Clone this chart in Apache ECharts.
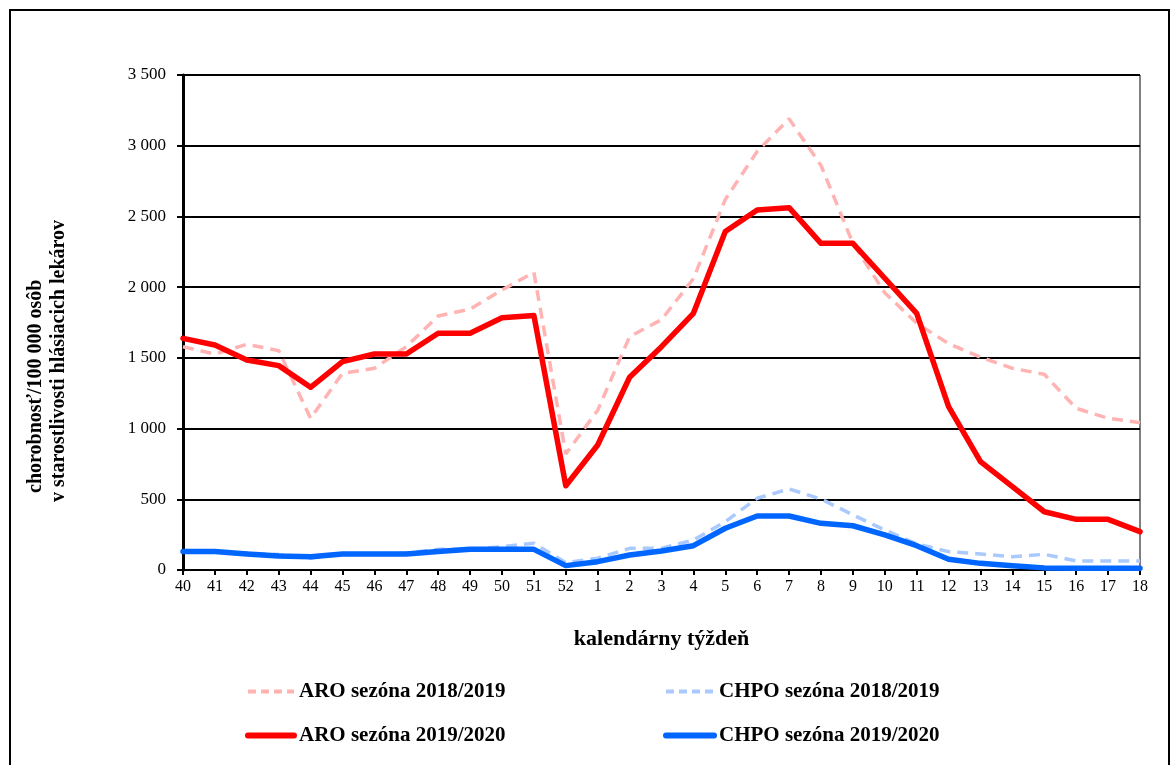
<!DOCTYPE html>
<html>
<head>
<meta charset="utf-8">
<script src="https://cdn.jsdelivr.net/npm/echarts@6/dist/echarts.min.js"></script>
<style>
html,body{margin:0;padding:0;background:#fff;}
#frame{position:absolute;left:9px;top:9px;width:1161px;height:800px;border:2px solid #000;box-sizing:border-box;}
#chart{position:absolute;left:0;top:0;width:1172px;height:765px;}
</style>
</head>
<body>
<div id="frame"></div>
<div id="chart"></div>
<script>
const weeks = ['40','41','42','43','44','45','46','47','48','49','50','51','52','1','2','3','4','5','6','7','8','9','10','11','12','13','14','15','16','17','18'];
const aro1819 = [1579,1527,1596,1551,1073,1391,1426,1579,1796,1844,1980,2105,820,1130,1650,1770,2060,2620,2960,3190,2860,2310,1960,1745,1600,1505,1426,1384,1143,1073,1042];
const aro1920 = [1638,1591,1485,1445,1292,1473,1527,1527,1674,1674,1784,1799,596,884,1363,1579,1815,2393,2546,2562,2310,2310,2063,1815,1155,766,589,412,358,358,271];
const chpo1819 = [130,128,120,110,83,113,113,120,146,146,165,189,52,83,153,153,212,342,507,573,502,390,283,184,130,113,94,111,64,64,64];
const chpo1920 = [130,130,113,99,94,113,113,113,130,146,146,146,31,59,106,134,172,295,382,382,330,313,248,172,76,47,30,15,12,12,12];
const yTicks = [0,500,1000,1500,2000,2500,3000,3500];
const yTitle = ['chorobnosť/100 000 osôb','v starostlivosti hlásiacich lekárov'];
const names = ['ARO sezóna 2018/2019','ARO sezóna 2019/2020','CHPO sezóna 2018/2019','CHPO sezóna 2019/2020'];

const serif = 'Liberation Serif';
const chart = echarts.init(document.getElementById('chart'));
const fmt = v => v >= 1000 ? (Math.floor(v/1000) + ' ' + String(v%1000).padStart(3,'0')) : String(v);
const legendText = {fontFamily:serif,fontSize:21,fontWeight:'bold',color:'#000'};
const dashLeg = {width:4,type:[8,5]};
const solidLeg = {width:6,type:'solid',cap:'round'};
chart.setOption({
  animation:false,
  textStyle:{fontFamily:serif},
  grid:{left:183,right:32,top:75,bottom:195,show:true,borderColor:'#000',borderWidth:1,backgroundColor:'transparent'},
  graphic:[
    {type:'text',x:36,y:493,rotation:Math.PI/2,style:{text:yTitle[0],fontFamily:serif,fontSize:20,fontWeight:'bold',fill:'#000',align:'left',verticalAlign:'middle'}},
    {type:'text',x:59,y:502,rotation:Math.PI/2,style:{text:yTitle[1],fontFamily:serif,fontSize:20,fontWeight:'bold',fill:'#000',align:'left',verticalAlign:'middle'}}
  ],
  xAxis:{
    type:'category',data:weeks,boundaryGap:false,
    name:'kalendárny týždeň',nameLocation:'middle',nameGap:58,
    nameTextStyle:{fontFamily:serif,fontSize:22,fontWeight:'bold',color:'#000'},
    axisLine:{lineStyle:{color:'#000',width:2}},
    axisTick:{show:true,alignWithLabel:true,length:5,lineStyle:{color:'#000',width:2}},
    axisLabel:{fontFamily:serif,fontSize:16,color:'#000',margin:9,interval:0}
  },
  yAxis:{
    type:'value',min:0,max:3500,interval:500,
    axisLine:{show:true,lineStyle:{color:'#000',width:3}},
    axisTick:{show:true,length:6,lineStyle:{color:'#000',width:2}},
    splitLine:{lineStyle:{color:'#000',width:2}},
    axisLabel:{fontFamily:serif,fontSize:17,color:'#000',margin:17,formatter:v=>yTicks.includes(v)?fmt(v):''}
  },
  legend:[
    {data:[{name:names[0],lineStyle:dashLeg},{name:names[1],lineStyle:solidLeg}],orient:'vertical',left:240,top:676,itemWidth:46,itemHeight:12,itemGap:23,
     itemStyle:{opacity:0},textStyle:legendText},
    {data:[{name:names[2],lineStyle:dashLeg},{name:names[3],lineStyle:solidLeg}],orient:'vertical',left:658,top:676,itemWidth:48,itemHeight:12,itemGap:23,
     itemStyle:{opacity:0},textStyle:legendText}
  ],
  series:[
    {name:names[0],type:'line',data:aro1819,symbol:'none',lineStyle:{color:'#ffb3b3',width:3.5,type:[11,7]},itemStyle:{color:'#ffb3b3'},z:2},
    {name:names[2],type:'line',data:chpo1819,symbol:'none',lineStyle:{color:'#a9c9ff',width:3.5,type:[11,7]},itemStyle:{color:'#a9c9ff'},z:2},
    {name:names[1],type:'line',data:aro1920,symbol:'none',lineStyle:{color:'#ff0000',width:5.5,cap:'round',join:'round'},itemStyle:{color:'#ff0000'},z:3},
    {name:names[3],type:'line',data:chpo1920,symbol:'none',lineStyle:{color:'#0066ff',width:5.5,cap:'round',join:'round'},itemStyle:{color:'#0066ff'},z:3}
  ]
});
</script>
</body>
</html>
